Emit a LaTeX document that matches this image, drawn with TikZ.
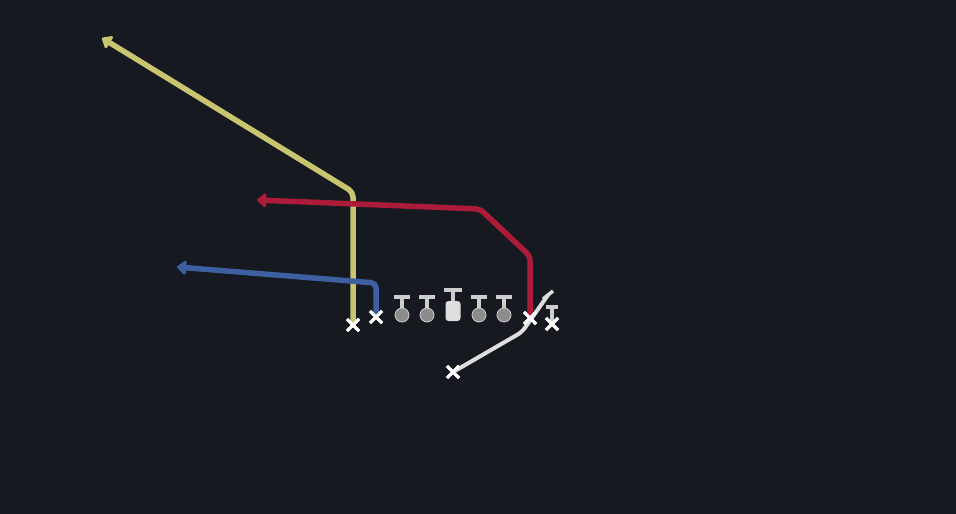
\documentclass[tikz,border=0pt]{standalone}
\usetikzlibrary{shapes.misc,arrows.meta}
\definecolor{bg}{RGB}{22,25,32}
\definecolor{ylw}{RGB}{200,196,112}
\definecolor{rd}{RGB}{172,28,58}
\definecolor{bl}{RGB}{62,95,160}
\definecolor{wt}{RGB}{222,222,222}
\definecolor{lgray}{RGB}{205,205,205}
\definecolor{dgray}{RGB}{140,140,140}
\begin{document}
\begin{tikzpicture}[x=1pt,y=-1pt,
  xmark/.style={cross out,draw=white,line width=3pt,minimum size=9pt,inner sep=0pt},
  route/.style={line width=5.5pt,rounded corners=5pt,-{Triangle[length=10pt,width=16pt,round]}},
  blockroute/.style={line width=4pt,draw=wt,rounded corners=5pt},
  stem/.style={line width=3.5pt,draw=lgray},
  bar/.style={line width=4pt,draw=lgray},
  lman/.style={circle,fill=dgray,draw=lgray,line width=0.8pt,minimum size=14pt,inner sep=0pt},
  cman/.style={rounded corners=3pt,fill=wt,minimum width=15pt,minimum height=20pt,inner sep=0pt}]
\fill[bg] (0,0) rectangle (956,514);
% offensive players
\node[xmark] (y) at (353,325) {};
\node[xmark] (b) at (376,317) {};
\node[xmark] (r) at (530,318) {};
\node[xmark] (te) at (552,324) {};
\node[xmark] (w) at (453,372) {};
% linemen
\foreach \i/\x in {1/402,2/427,4/479,5/504}{
  \node[lman] (l\i) at (\x,315) {};
  \coordinate (t\i) at (\x,297);
  \draw[stem] (l\i.north) -- (t\i);
  \draw[bar] ([xshift=-8pt]t\i) -- ([xshift=8pt]t\i);
}
\node[cman] (c) at (453,311) {};
\coordinate (tc) at (453,290);
\draw[stem] (c.north) -- (tc);
\draw[bar] ([xshift=-9pt]tc) -- ([xshift=9pt]tc);
% tight end block
\coordinate (tte) at (552,307);
\draw[stem] (te.center) -- (tte);
\draw[bar] ([xshift=-6pt]tte) -- ([xshift=6pt]tte);
% routes
\coordinate (y1) at (353,192);
\coordinate (yend) at (102,38);
\draw[route,draw=ylw] (y.center) -- (y1) -- (yend);
\coordinate (r1) at (530,256);
\coordinate (r2) at (480,209);
\coordinate (rend) at (257,200);
\draw[route,draw=rd] (r.center) -- (r1) -- (r2) -- (rend);
\coordinate (b1) at (376,283);
\coordinate (bend) at (177,267);
\draw[route,draw=bl] (b.center) -- (b1) -- (bend);
\coordinate (w1) at (522,332);
\coordinate (wend) at (548,295);
\draw[blockroute] (w.center) -- (w1) -- (wend);
\draw[line width=3.5pt,draw=wt] ([shift={(-5pt,-4pt)}]wend) -- ([shift={(5pt,4pt)}]wend);
% redraw X marks on top
\foreach \n in {y,b,r,te,w}{\node[xmark] at (\n.center) {};}
\end{tikzpicture}
\end{document}
